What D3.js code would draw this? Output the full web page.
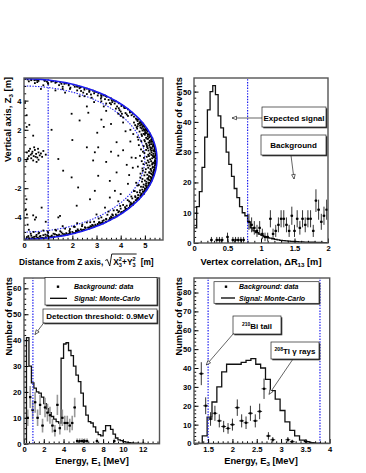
<!DOCTYPE html>
<html>
<head>
<meta charset="utf-8">
<script src="https://cdn.jsdelivr.net/npm/d3@7"></script>
<style>
body{margin:0;background:#fff;}
svg text{font-family:"Liberation Sans",Arial,sans-serif;font-weight:bold;}
</style>
</head>
<body>
<svg id="chart" width="366" height="473"></svg>
<script>
// ---------------- data ----------------
// panel 1: reconstructed vertices [rho, z] in metres
var vertexRim = [[0.57,5.41],[1.13,5.3],[1.67,5.15],[2.2,4.95],[2.71,4.69],[3.19,4.38],[3.63,4.03],[4.03,3.63],
  [4.38,3.19],[4.69,2.71],[4.87,2.37],[5.02,2.03],[5.15,1.67],[5.26,1.31],[5.34,0.94],[5.39,0.57],[5.41,0.19],
  [5.41,-0.19],[5.39,-0.57],[5.34,-0.94],[5.26,-1.31],[5.15,-1.67],[5.02,-2.03],[4.87,-2.37],[4.69,-2.71],
  [4.38,-3.19],[4.03,-3.63],[3.63,-4.03],[3.19,-4.38],[2.71,-4.69],[2.2,-4.95],[1.67,-5.15],[1.13,-5.3],[0.57,-5.39],
  [5.44,0.4],[5.44,-0.4],[5.4,0.8],[5.4,-0.8],[5.35,1.1],[5.36,-1.1],[5.28,1.45],[5.28,-1.45],[5.2,1.75],[5.2,-1.75],
  [5.08,2.05],[5.07,-2.08],[4.93,2.42],[4.95,-2.4],[4.75,2.72],[4.73,-2.75],[4.5,3.1],[4.47,-3.12],[4.18,3.5],
  [4.2,-3.48],[3.8,3.95],[3.82,-3.92],[3.35,4.35],[3.38,-4.32],[2.85,4.68],[2.9,-4.64],[2.35,4.92],[2.4,-4.9],
  [1.85,5.12],[1.88,-5.1],[1.35,5.28],[1.4,-5.26],[0.85,5.4],[0.9,-5.38],[0.3,5.45],[0.3,-5.44]];
var vertexShell = [[4.82,2.55],[4.7,2.6],[4.55,2.5],[4.78,2.45],[4.95,2.3],[4.85,2.35],[4.7,2.25],[4.9,2.2],[4.6,2.32],
  [5.05,2.1],[4.95,2.05],[4.82,2.15],[5.0,1.98],[4.68,2.08],[4.4,2.0],[5.12,1.9],[5.02,1.85],[4.9,1.95],[5.08,1.78],
  [4.78,1.88],[4.95,1.72],[5.22,1.62],[5.12,1.55],[5.0,1.66],[5.18,1.48],[4.88,1.58],[5.05,1.45],[4.7,1.5],
  [5.3,1.32],[5.2,1.25],[5.1,1.38],[5.26,1.18],[4.98,1.3],[5.15,1.12],[4.85,1.22],[5.05,1.05],
  [5.37,0.98],[5.28,1.02],[5.18,0.92],[5.32,0.86],[5.08,0.95],[5.22,0.8],[4.95,0.88],[5.12,0.74],[4.75,0.95],
  [5.42,0.66],[5.34,0.6],[5.24,0.68],[5.38,0.52],[5.15,0.58],[5.28,0.45],[5.05,0.62],[5.2,0.38],[4.92,0.5],[5.35,0.35],
  [5.45,0.25],[5.36,0.18],[5.27,0.28],[5.4,0.1],[5.17,0.2],[5.3,0.05],[5.08,0.15],[5.22,-0.02],[4.96,0.08],[5.42,-0.08],[4.8,0.22],
  [5.44,-0.2],[5.35,-0.25],[5.26,-0.15],[5.39,-0.32],[5.16,-0.22],[5.3,-0.38],[5.06,-0.28],[5.2,-0.45],[4.94,-0.35],[5.12,-0.1],
  [5.42,-0.62],[5.33,-0.55],[5.24,-0.68],[5.37,-0.75],[5.14,-0.6],[5.27,-0.82],[5.04,-0.7],[5.18,-0.9],[4.9,-0.65],
  [5.38,-1.0],[5.29,-1.05],[5.19,-0.95],[5.33,-1.15],[5.1,-1.08],[5.23,-1.22],[4.98,-1.12],[5.14,-1.3],[4.82,-1.0],
  [5.3,-1.38],[5.21,-1.45],[5.1,-1.35],[5.25,-1.55],[5.0,-1.48],[5.15,-1.62],[4.88,-1.55],[5.05,-1.7],
  [5.16,-1.8],[5.06,-1.85],[4.95,-1.75],[5.1,-1.95],[4.84,-1.9],[5.0,-2.02],[4.7,-1.82],
  [5.02,-2.2],[4.92,-2.25],[4.8,-2.15],[4.97,-2.35],[4.68,-2.28],[4.85,-2.4],[4.55,-2.2],
  [4.82,-2.6],[4.72,-2.65],[4.6,-2.55],[4.76,-2.75],[4.48,-2.7],[4.65,-2.82],
  [4.55,2.9],[4.45,3.0],[4.3,2.95],[4.2,3.15],[4.38,3.25],[4.05,3.1],[4.3,3.4],[4.15,3.5],[3.95,3.35],[4.18,3.52],
  [3.85,3.6],[4.05,3.7],[3.75,3.8],[3.92,3.82],[3.6,3.75],[3.7,4.0],[3.5,4.05],[3.6,4.15],[3.35,4.1],[3.42,4.26],
  [3.2,4.25],[3.28,4.36],[3.05,4.35],[3.08,4.5],[2.9,4.5],[2.92,4.62],[2.7,4.6],[2.7,4.75],[2.5,4.75],[2.5,4.85],
  [2.3,4.85],[2.28,4.96],[2.1,4.95],[2.05,5.08],[1.85,5.05],[1.75,5.2],[1.55,5.15],[1.5,5.25],[1.3,5.22],[1.2,5.33],
  [0.95,5.3],[0.85,5.38],[0.6,5.35],[0.5,5.42],[0.3,5.4],[0.15,5.45],[4.0,3.25],[3.65,3.9],[2.6,4.45],[3.9,3.1],
  [3.4,3.8],[2.2,4.7],[1.6,4.95],[1.0,5.15],[0.45,5.2],[3.8,3.45],[2.8,4.2],[4.1,2.85],[3.2,3.95],[2.45,4.55],[1.9,4.8],
  [4.55,-2.95],[4.45,-3.05],[4.35,-2.9],[4.5,-3.15],[4.25,-3.2],[4.38,-3.28],[4.1,-3.15],[4.25,-3.42],[4.15,-3.55],
  [4.0,-3.4],[4.12,-3.58],[3.9,-3.65],[4.0,-3.72],[3.8,-3.8],[3.9,-3.85],[3.65,-3.8],[3.75,-4.0],[3.55,-4.05],
  [3.58,-4.12],[3.4,-4.1],[3.4,-4.28],[3.25,-4.25],[3.25,-4.38],[3.1,-4.35],[3.05,-4.52],[2.95,-4.5],[2.95,-4.6],
  [2.75,-4.6],[2.72,-4.74],[2.55,-4.72],[2.5,-4.84],[2.35,-4.82],[2.28,-4.95],[2.15,-4.92],[2.1,-5.08],[1.9,-5.02],
  [1.8,-5.18],[1.6,-5.12],[1.55,-5.25],[1.35,-5.2],[1.25,-5.32],[1.0,-5.28],[0.9,-5.36],[0.65,-5.32],[0.55,-5.4],
  [0.35,-5.38],[0.2,-5.42],[3.85,-3.5],[3.6,-3.95],[3.3,-4.2],[3.05,-4.45],[2.85,-4.55],[2.65,-4.7],[2.45,-4.85],
  [2.25,-4.9],[2.0,-5.0],[1.75,-5.08],[1.45,-5.18],[1.15,-5.25],[0.8,-5.22],[0.5,-5.3],[0.3,-5.25],[1.9,-5.12],
  [1.65,-5.22],[1.4,-5.3],[1.1,-5.35],[0.75,-5.4],[2.4,-4.9],[2.15,-5.0],[2.8,-4.65],[3.15,-4.45],[3.5,-4.2],
  [3.7,-4.02],[3.85,-3.9],[4.2,-3.4],[4.4,-3.1],[3.2,-4.0],[2.9,-4.3],[2.4,-4.6],[1.9,-4.8],[1.5,-4.95],[1.0,-5.05],
  [0.6,-5.1],[2.6,-4.35],[3.5,-3.6],[2.1,-4.65],[1.3,-4.85],[0.8,-4.9],[0.4,-5.0],[0.2,-4.85],[3.0,-3.8],[2.2,-4.4],
  [1.6,-4.6],[0.9,-4.3]];
var vertexShellExtra = [[5.31,1.41],[5.19,1.71],[5.07,1.98],[4.93,2.27],[4.79,2.51],[4.63,2.77],[5.4,0.71],[5.44,0.33],
  [5.43,-0.11],[5.41,-0.47],[5.36,-0.87],[5.29,-1.27],[5.2,-1.63],[5.08,-1.95],[4.96,-2.23],[4.81,-2.5],[4.62,-2.83],
  [5.33,0.21],[5.26,0.57],[5.21,1.01],[5.13,1.39],[5.01,1.77],[4.87,2.09],[4.72,2.4],[5.31,-0.29],[5.24,-0.72],
  [5.17,-1.17],[5.06,-1.56],[4.93,-1.92],[4.79,-2.29],[4.61,-2.62],[5.14,0.29],[5.09,0.83],[5.0,1.21],[4.86,1.69],
  [4.66,2.18],[5.11,-0.43],[5.02,-0.91],[4.9,-1.37],[4.75,-1.78],[4.58,-2.2],[4.44,-2.57],[4.98,0.41],[4.87,-0.15],
  [4.84,0.66],[4.73,1.32],[4.91,-0.81],[4.81,-1.27],[4.64,-1.63],[4.52,1.71],[4.62,0.07],[4.71,-0.52],
  [5.46,0.05],[5.45,-0.3],[5.43,0.52],[5.41,-0.73],[5.38,0.88],[5.35,-1.08],[5.3,1.2],[5.27,-1.5],[5.22,1.55],
  [5.14,-1.82],[5.1,1.92],[4.99,-2.13],[4.98,2.2],[4.86,-2.47],[4.85,2.48],[4.69,-2.72],[4.66,2.7],
  [5.37,0.12],[5.32,-0.6],[5.29,0.75],[5.25,-0.99],[5.2,1.15],[5.15,-1.42],[5.12,1.67],[5.03,-1.82],[4.97,1.95],
  [4.89,-2.1],[4.8,2.3],[4.72,-2.47],
  [4.52,-3.05],[4.33,-3.35],[4.08,-3.65],[3.83,-3.93],[3.55,-4.18],[3.27,-4.41],[2.98,-4.58],[2.68,-4.78],[2.38,-4.93],
  [2.06,-5.07],[1.72,-5.19],[1.39,-5.28],[1.04,-5.36],[0.7,-5.42],[0.38,-5.43],[0.1,-5.45],
  [4.41,-2.98],[4.18,-3.3],[3.93,-3.58],[3.68,-3.86],[3.4,-4.12],[3.12,-4.33],[2.82,-4.52],[2.52,-4.68],[2.22,-4.82],
  [1.88,-4.93],[1.55,-5.03],[1.22,-5.12],[0.88,-5.18],[0.52,-5.2],[0.18,-5.28],
  [4.29,-2.82],[3.98,-3.22],[3.71,-3.52],[3.45,-3.82],[3.09,-4.08],[2.74,-4.33],[2.41,-4.5],[2.06,-4.64],[1.7,-4.77],
  [1.33,-4.9],[0.98,-4.98],[0.63,-5.05],[0.28,-5.12],
  [1.17,-5.36],[0.82,-5.42],[0.47,-5.46],[1.5,-5.26],[1.83,-5.15],[0.12,-5.35],[0.42,-5.33],[0.96,-5.22],[1.28,-5.15],[0.68,-5.27],
  [4.44,3.21],[4.13,3.59],[3.77,3.97],[3.39,4.31],[2.99,4.59],[2.6,4.82],[2.18,5.02],[1.75,5.18],[1.31,5.3],[0.86,5.36],[0.43,5.4],
  [4.25,3.05],[3.92,3.48],[3.55,3.83],[3.18,4.14],[2.77,4.42],[2.36,4.66],[1.92,4.89],[1.45,5.06],[0.99,5.2],[0.55,5.27],[0.2,5.32],
  [4.0,2.95],[3.3,3.6],[2.5,4.3],[1.6,4.8],[0.8,5.05]];
var vertexInner = [[1.14,2.0],[0.38,1.6],[1.97,3.1],[2.3,2.64],[2.66,3.17],[3.03,1.8],[2.6,0.8],[3.07,0.8],[2.93,0.46],
  [3.83,1.15],[3.9,0.23],[1.42,0.0],[1.62,-0.8],[1.97,-1.26],[2.24,-1.95],[2.86,-0.1],[3.07,-1.15],[3.55,-1.5],
  [2.73,-2.76],[2.18,-3.2],[2.93,-2.18],[1.49,-3.9],[1.42,-4.0],[0.73,-3.33],[0.38,-3.86],[3.35,-3.33],[3.55,-2.64],
  [3.76,-2.18],[3.83,-0.92],[0.11,2.2],[0.22,2.34],[0.04,3.84],[0.11,3.0],[0.1,-2.76],[0.08,-3.45],[0.12,-3.8],
  [0.15,-4.5],[0.5,-4.0],[0.45,-4.15],[4.2,1.9],[4.3,-1.7],[4.1,0.6],[4.25,-0.4],[3.6,0.5],[4.4,1.2],[4.35,-1.1],
  [4.0,-2.4],[3.3,2.2],[2.0,1.3],[3.4,-0.2],[4.45,0.1],[4.5,-0.6],[4.1,2.5],[3.9,-2.9],[3.4,3.3],[2.9,3.9],[2.3,4.3],
  [3.2,2.7],[2.6,3.6],[1.3,4.7],[0.7,4.8],[3.6,2.4],[1.7,4.55]];
var vertexCluster = [[0.12,0.45],[0.2,0.55],[0.28,0.3],[0.35,0.5],[0.4,0.2],[0.45,0.62],[0.5,0.35],[0.55,0.1],
  [0.6,0.45],[0.65,0.25],[0.3,0.05],[0.2,0.2],[0.38,-0.1],[0.52,-0.2],[0.7,0.38],[0.25,0.7],[0.42,0.8],[0.15,0.05],
  [0.6,-0.05],[0.75,0.15],[0.33,0.38],[0.48,0.15],[0.8,0.55],[0.1,-0.15],[0.9,0.3],[0.58,0.7]];
var vesselRadius = 5.5, fiducialRadius = 5.0, rhoCut = 1.0;

// panel 2: vertex correlation dR13
var dRlow = 0, dRwidth = 0.04;
var dRsignal = [5,12,17,25,35,44,50,52,49,42,38,35,30,26,22,18,15,12,10,9,7,5,4,3.4,2.9,2.5,2.1,1.8,1.6,1.4,
  1.2,1.0,0.9,0.8,0.7,0.6,0.55,0.5,0.45,0.4,0.35,0.3,0.3,0.25,0.25,0.2,0.2,0.2,0.15,0.15];
var dRbgX = [0.26,0.34,0.38,0.42,0.5,0.58,0.62,0.66,0.7,0.74,0.82,0.86,0.9,0.94,0.98,1.02,1.06,1.1,1.14,1.18,
  1.22,1.26,1.3,1.34,1.38,1.42,1.46,1.5,1.54,1.58,1.62,1.66,1.7,1.74,1.78,1.82,1.86,1.9,1.94,1.98];
var dRbgY = [1,1,1,1,2,1,1,1,1,1,7,6,5,4,5,3,2,2,8,3,4,6,8,8,6,4,9,4,8,5,8,6,8,8,4,14,11,7,9,11];
var dRcut = 0.8;

// panel 3: energy E1
var e1low = 0, e1width = 0.25;
var e1signal = [0,41,30,23.5,21.5,20,19.5,18,15.5,13.5,12,10.5,9.5,8.5,8,33,38.5,39,36,34,30,26.5,24,19.5,14.5,11,
  8.5,8,6.5,4.5,3.5,3,5,7,7,5.5,3.7,2.2,1.5,1.2,0.8,0.6,0.4,0.3,0.2,0.2,0.1,0.1,0.1,0.05,0.05,0,0,0,0];
var e1bgX = [0.375,0.625,0.875,1.125,1.375,1.625,1.875,2.125,2.375,2.625,2.875,3.125,3.375,3.625,3.875,4.125,4.375,
  4.625,4.875,5.125,5.375,5.625,5.875,6.125,6.375,7.375,9.125];
var e1bgY = [10,18,13,16,10,15,7,14,12,11,7,5,15,6,10,8,8,7,8,14,1,1,1,1,1,1,1];
var e1threshold = 0.9;

// panel 4: energy E3
var e3low = 1.18, e3width = 0.1;
var e3signal = [0,0,4,14,22,30,38,42,42,42,43,44,45,42,40,34,28,23.5,17.5,11.5,7,4,1.8,1,0.4,0.2,0,0];
var e3bgX = [1.36,1.45,1.55,1.64,1.73,1.82,1.91,2.0,2.1,2.19,2.28,2.37,2.47,2.56,2.65,2.74,2.83,3.14,3.23,3.52];
var e3bgY = [37,20,13,16,12,9,8,10,19,12,11,16,12,17,29,4,2,2,1,1];
var e3window = [1.5, 3.8];

// ---------------- drawing ----------------
var svg = d3.select("#chart");
var defs = svg.append("defs");
var clipN = 0;
var BLUE = "#1c1cf0";

function makePanel(o) {
  var x = d3.scaleLinear().domain(o.xDomain).range([o.left, o.right]);
  var y = d3.scaleLinear().domain(o.yDomain).range([o.bottom, o.top]);
  var id = "clip" + (clipN++);
  defs.append("clipPath").attr("id", id).append("rect")
    .attr("x", o.left).attr("y", o.top)
    .attr("width", o.right - o.left).attr("height", o.bottom - o.top);
  var g = svg.append("g");
  var plot = g.append("g").attr("clip-path", "url(#" + id + ")");
  var fmt = function(d) { return String(d); };

  //minor ticks
  g.append("g").attr("transform", "translate(0," + o.bottom + ")")
    .call(d3.axisBottom(x).tickValues(o.xMinor).tickSize(-2.2).tickFormat(""))
    .call(function(s) { s.select(".domain").remove(); });
  g.append("g").attr("transform", "translate(" + o.left + ",0)")
    .call(d3.axisLeft(y).tickValues(o.yMinor).tickSize(-2.2).tickFormat(""))
    .call(function(s) { s.select(".domain").remove(); });
  //major ticks + labels
  g.append("g").attr("transform", "translate(0," + o.bottom + ")")
    .call(d3.axisBottom(x).tickValues(o.xMajor).tickSize(-4.5).tickPadding(3).tickFormat(fmt))
    .call(function(s) { s.select(".domain").remove(); })
    .attr("font-size", 7.6);
  g.append("g").attr("transform", "translate(" + o.left + ",0)")
    .call(d3.axisLeft(y).tickValues(o.yMajor).tickSize(-4.5).tickPadding(2.5).tickFormat(fmt))
    .call(function(s) { s.select(".domain").remove(); })
    .attr("font-size", 7.6);
  //frame
  g.append("rect").attr("x", o.left).attr("y", o.top)
    .attr("width", o.right - o.left).attr("height", o.bottom - o.top)
    .attr("fill", "none").attr("stroke", "#555").attr("stroke-width", 1.4);
  return {g: g, plot: plot, x: x, y: y};
}

function stepPoints(low, width, vals) {
  var pts = [[low, 0]];
  vals.forEach(function(v, i) {
    pts.push([low + i * width, v], [low + (i + 1) * width, v]);
  });
  pts.push([low + vals.length * width, 0]);
  return pts;
}

function drawHist(p, low, width, vals) {
  var line = d3.line().x(function(d) { return p.x(d[0]); }).y(function(d) { return p.y(d[1]); });
  p.plot.append("path").attr("d", line(stepPoints(low, width, vals)))
    .attr("fill", "none").attr("stroke", "#111").attr("stroke-width", 1.3);
}

function drawData(p, xs, ys, halfW, barColor, barW) {
  var pts = d3.zip(xs, ys);
  var eg = p.plot.append("g");
  eg.selectAll(".ev").data(pts).join("line")
    .attr("x1", function(d) { return p.x(d[0]); }).attr("x2", function(d) { return p.x(d[0]); })
    .attr("y1", function(d) { return p.y(d[1] - Math.sqrt(d[1])); })
    .attr("y2", function(d) { return p.y(d[1] + Math.sqrt(d[1])); })
    .attr("stroke", barColor).attr("stroke-width", barW);
  eg.selectAll(".eh").data(pts).join("line")
    .attr("x1", function(d) { return p.x(d[0] - halfW); }).attr("x2", function(d) { return p.x(d[0] + halfW); })
    .attr("y1", function(d) { return p.y(d[1]); }).attr("y2", function(d) { return p.y(d[1]); })
    .attr("stroke", "#000").attr("stroke-width", 0.8);
  eg.selectAll(".em").data(pts).join("rect")
    .attr("x", function(d) { return p.x(d[0]) - 1.1; }).attr("y", function(d) { return p.y(d[1]) - 1.1; })
    .attr("width", 2.2).attr("height", 2.2).attr("fill", "#000");
}

function vline(p, v, color) {
  p.plot.append("line").attr("x1", p.x(v)).attr("x2", p.x(v))
    .attr("y1", p.y.range()[0]).attr("y2", p.y.range()[1])
    .attr("stroke", color).attr("stroke-width", 1.2).attr("stroke-dasharray", "1.4,1.4");
}

function pave(x, y, w, h) {
  svg.append("rect").attr("x", x + 1.3).attr("y", y + 1.3).attr("width", w).attr("height", h).attr("fill", "#333");
  svg.append("rect").attr("x", x).attr("y", y).attr("width", w).attr("height", h)
    .attr("fill", "#fff").attr("stroke", "#222").attr("stroke-width", 0.7);
}

function arrow(x1, y1, x2, y2) {
  svg.append("line").attr("x1", x1).attr("y1", y1).attr("x2", x2).attr("y2", y2)
    .attr("stroke", "#222").attr("stroke-width", 0.7);
  var len = Math.sqrt((x2 - x1) * (x2 - x1) + (y2 - y1) * (y2 - y1));
  var ux = (x2 - x1) / len, uy = (y2 - y1) / len;
  var bx = x2 - 4.5 * ux, by = y2 - 4.5 * uy;
  svg.append("path")
    .attr("d", "M" + x2 + "," + y2 + "L" + (bx - 1.8 * uy) + "," + (by + 1.8 * ux) +
      "L" + (bx + 1.8 * uy) + "," + (by - 1.8 * ux) + "Z")
    .attr("fill", "#fff").attr("stroke", "#222").attr("stroke-width", 0.7);
}

// title with a subscript piece: parts = [[text, "n"|"sub"|"sup"], ...]
function richText(sel, parts, size) {
  var shift = 0;
  parts.forEach(function(pt) {
    var target = pt[1] == "sub" ? size * 0.28 : (pt[1] == "sup" ? -size * 0.4 : 0);
    sel.append("tspan").attr("dy", target - shift)
      .attr("font-size", pt[1] == "n" ? size : size * 0.66).text(pt[0]);
    shift = target;
  });
  return sel;
}

function yTitle(x, y, parts) {
  var t = svg.append("text").attr("transform", "translate(" + x + "," + y + ") rotate(-90)")
    .attr("text-anchor", "end").attr("font-size", 9.3);
  richText(t, parts, 9.3);
}
function xTitle(x, y, parts) {
  var t = svg.append("text").attr("x", x).attr("y", y).attr("text-anchor", "middle").attr("font-size", 9.3);
  richText(t, parts, 9.3);
}

// ---- panel 1 : vertex distribution
var p1 = makePanel({left: 24, right: 163, top: 78, bottom: 240, xDomain: [0, 5.75], yDomain: [-5.55, 5.55],
  xMajor: [0, 1, 2, 3, 4, 5], xMinor: d3.range(0, 5.75, 0.2),
  yMajor: [-4, -2, 0, 2, 4], yMinor: d3.range(-5.5, 5.55, 0.5)});

var angles = d3.range(0, Math.PI + 0.001, Math.PI / 120);
function ring(R) {
  return d3.line()
    .x(function(a) { return p1.x(R * Math.sin(a)); })
    .y(function(a) { return p1.y(R * Math.cos(a)); })(angles);
}
p1.plot.append("path").attr("d", ring(fiducialRadius)).attr("fill", "none")
  .attr("stroke", BLUE).attr("stroke-width", 1.1).attr("stroke-dasharray", "1.4,1.4");
vline(p1, rhoCut, BLUE);
var allVertices = vertexRim.concat(vertexShell, vertexShellExtra, vertexInner, vertexCluster);
p1.plot.selectAll(".vtx").data(allVertices).join("rect")
  .attr("x", function(d) { return p1.x(d[0]) - 0.9; })
  .attr("y", function(d) { return p1.y(d[1]) - 0.9; })
  .attr("width", 1.8).attr("height", 1.8).attr("fill", "#000");
p1.plot.append("path").attr("d", ring(vesselRadius)).attr("fill", "none")
  .attr("stroke", BLUE).attr("stroke-width", 1.6);

yTitle(10.5, 77, [["Vertical axis, Z", "n"], ["3", "sub"], [" [m]", "n"]]);

// x title with square root
(function() {
  var base = 264.5, fs = 8.4;
  var t1 = svg.append("text").attr("x", 19).attr("y", base).attr("font-size", fs).text("Distance from Z axis,");
  var x0 = 19 + t1.node().getComputedTextLength() + 2;
  var t2 = svg.append("text").attr("x", x0 + 8).attr("y", base).attr("font-size", fs);
  t2.append("tspan").text("X");
  t2.append("tspan").attr("font-size", 5.6).attr("dy", 2.4).text("3");
  t2.append("tspan").attr("font-size", 5.6).attr("dx", -3.1).attr("dy", -6.4).text("2");
  t2.append("tspan").attr("dy", 4).text("+Y");
  t2.append("tspan").attr("font-size", 5.6).attr("dy", 2.4).text("3");
  t2.append("tspan").attr("font-size", 5.6).attr("dx", -3.1).attr("dy", -6.4).text("2");
  var bb = t2.node().getBBox();
  var xe = bb.x + bb.width + 1;
  svg.append("path")
    .attr("d", "M" + x0 + "," + (base - 4) + "L" + (x0 + 2) + "," + (base - 5) + "L" + (x0 + 4.5) + "," + (base + 1.5) +
      "L" + (x0 + 6.5) + "," + (base - 10.5) + "L" + xe + "," + (base - 10.5))
    .attr("fill", "none").attr("stroke", "#000").attr("stroke-width", 0.9);
  svg.append("text").attr("x", xe + 4).attr("y", base).attr("font-size", fs).text("[m]");
})();

// ---- panel 2 : vertex correlation
var p2 = makePanel({left: 194, right: 328, top: 78, bottom: 243, xDomain: [0, 2], yDomain: [0, 54.5],
  xMajor: [0, 0.5, 1, 1.5, 2], xMinor: d3.range(0, 2.01, 0.1),
  yMajor: [0, 10, 20, 30, 40, 50], yMinor: d3.range(0, 54, 2)});
drawHist(p2, dRlow, dRwidth, dRsignal);
drawData(p2, dRbgX, dRbgY, dRwidth / 2, "#000", 0.8);
vline(p2, dRcut, BLUE);
yTitle(181.5, 77, [["Number of events", "n"]]);
xTitle(261, 264.5, [["Vertex correlation, \u0394R", "n"], ["13", "sub"], [" [m]", "n"]]);

pave(262, 107, 64, 20);
svg.append("text").attr("x", 294).attr("y", 120.5).attr("text-anchor", "middle").attr("font-size", 8).text("Expected signal");
arrow(262, 118, 232, 118);
pave(261, 135, 65, 20);
svg.append("text").attr("x", 293.5).attr("y", 148).attr("text-anchor", "middle").attr("font-size", 8).text("Background");
arrow(291, 155.5, 294, 179);

// ---- panel 3 : energy E1
var p3 = makePanel({left: 24, right: 159.5, top: 278, bottom: 443.7, xDomain: [0, 13.7], yDomain: [0, 64],
  xMajor: [0, 2, 4, 6, 8, 10, 12], xMinor: d3.range(0, 13.7, 0.5),
  yMajor: [0, 10, 20, 30, 40, 50, 60], yMinor: d3.range(0, 64, 2)});
drawHist(p3, e1low, e1width, e1signal);
drawData(p3, e1bgX, e1bgY, e1width / 2, "#999", 1.6);
vline(p3, e1threshold, BLUE);
yTitle(12, 277, [["Number of events", "n"]]);
xTitle(92, 463.5, [["Energy, E", "n"], ["1", "sub"], [" [MeV]", "n"]]);

pave(45, 277.5, 112, 27.5);
svg.append("rect").attr("x", 56.8).attr("y", 285.5).attr("width", 2.4).attr("height", 2.4).attr("fill", "#000");
svg.append("line").attr("x1", 50).attr("x2", 67).attr("y1", 298.3).attr("y2", 298.3).attr("stroke", "#000").attr("stroke-width", 1.3);
svg.append("text").attr("x", 74).attr("y", 289.3).attr("font-size", 7).attr("font-style", "italic").text("Background: data");
svg.append("text").attr("x", 74).attr("y", 300.8).attr("font-size", 7).attr("font-style", "italic").text("Signal: Monte-Carlo");
pave(43, 309, 114, 14);
svg.append("text").attr("x", 100).attr("y", 319.3).attr("text-anchor", "middle").attr("font-size", 8).text("Detection threshold: 0.9MeV");
arrow(44, 322.5, 35, 334.5);

// ---- panel 4 : energy E3
var p4 = makePanel({left: 194, right: 329.7, top: 278, bottom: 443.5, xDomain: [1.21, 4.0], yDomain: [0, 87.7],
  xMajor: [1.5, 2, 2.5, 3, 3.5, 4], xMinor: d3.range(1.3, 4.0, 0.1),
  yMajor: [0, 10, 20, 30, 40, 50, 60, 70, 80], yMinor: d3.range(0, 88, 2)});
drawHist(p4, e3low, e3width, e3signal);
drawData(p4, e3bgX, e3bgY, e3width / 2, "#000", 0.8);
vline(p4, e3window[0], BLUE);
vline(p4, e3window[1], BLUE);
yTitle(181.5, 277, [["Number of events", "n"]]);
xTitle(261, 463.5, [["Energy, E", "n"], ["3", "sub"], [" [MeV]", "n"]]);

pave(214, 281.7, 105, 21.6);
svg.append("rect").attr("x", 224.8).attr("y", 285.5).attr("width", 2.4).attr("height", 2.4).attr("fill", "#000");
svg.append("line").attr("x1", 221).attr("x2", 235).attr("y1", 298).attr("y2", 298).attr("stroke", "#000").attr("stroke-width", 1.3);
svg.append("text").attr("x", 239).attr("y", 289.3).attr("font-size", 7).attr("font-style", "italic").text("Background: data");
svg.append("text").attr("x", 239).attr("y", 300.5).attr("font-size", 7).attr("font-style", "italic").text("Signal: Monte-Carlo");

pave(233, 316, 48, 18);
var bi = svg.append("text").attr("x", 257).attr("y", 328.5).attr("text-anchor", "middle").attr("font-size", 8);
bi.append("tspan").attr("font-size", 5).attr("dy", -3).text("210");
bi.append("tspan").attr("dy", 3).text("Bi tail");
arrow(233.5, 333.5, 206.3, 365);

pave(271, 342, 48, 17);
var tl = svg.append("text").attr("x", 295).attr("y", 354).attr("text-anchor", "middle").attr("font-size", 8);
tl.append("tspan").attr("font-size", 5).attr("dy", -3).text("208");
tl.append("tspan").attr("dy", 3).text("Tl \u03b3 rays");
arrow(293, 359, 269, 394.3);
</script>
</body>
</html>
